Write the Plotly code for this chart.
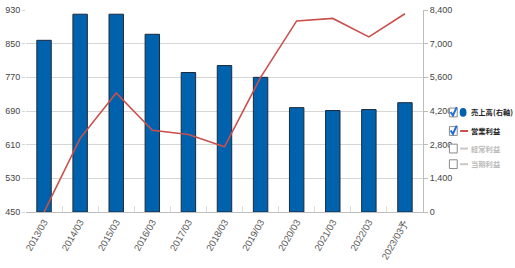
import plotly.graph_objects as go

categories = ["2013/03", "2014/03", "2015/03", "2016/03", "2017/03", "2018/03",
              "2019/03", "2020/03", "2021/03", "2022/03", "2023/03予"]
sales = [7140, 8225, 8225, 7390, 5800, 6090, 5600, 4340, 4220, 4260, 4545]
op_profit = [450, 625, 733, 644, 634, 605, 770, 904, 910, 866, 921]

left_ticks = [450, 530, 610, 690, 770, 850, 930]
right_ticks = [0, 1400, 2800, 4200, 5600, 7000, 8400]

legend_labels = ["売上高(右軸)", "営業利益", "経常利益", "当期利益"]
legend_checked = [True, True, False, False]

W, H = 515, 268
L, R, T, B = 17, 92, 5, 56
PW, PH = W - L - R, H - T - B


def px(x):
    return (x - L) / PW


def py(y):
    return (H - B - y) / PH


fig = go.Figure()
fig.add_trace(go.Bar(
    x=categories, y=sales, yaxis="y", width=0.4,
    marker=dict(color="#0062AD", line=dict(color="#1B2A3C", width=1)),
    showlegend=False, name="売上高(右軸)",
))
fig.add_trace(go.Scatter(
    x=categories, y=op_profit, yaxis="y2", mode="lines",
    line=dict(color="#C9504D", width=1.6),
    showlegend=False, name="営業利益", cliponaxis=True,
))

tickfont = dict(family="Liberation Sans, Arial, sans-serif", size=9, color="#444444")

fig.update_layout(
    width=W, height=H,
    margin=dict(l=L, r=R, t=T, b=B),
    paper_bgcolor="white", plot_bgcolor="white",
    showlegend=False,
    bargap=0.6,
    xaxis=dict(
        type="category", tickangle=-60, tickfont=dict(family="Liberation Sans, Arial, sans-serif", size=9.5, color="#555555"),
        showline=True, linecolor="#BDBDBD", linewidth=1,
        ticks="inside", tickson="boundaries", ticklen=6, tickcolor="#DDDDDD",
        showgrid=False, range=[-0.5, len(categories) - 0.5],
    ),
    yaxis=dict(
        side="right", range=[0, 8400], tickvals=right_ticks,
        ticktext=[f"{v:,}" for v in right_ticks],
        tickfont=tickfont, showgrid=True, gridcolor="#D6D6D6", gridwidth=1,
        showline=True, linecolor="#BDBDBD", linewidth=1,
        ticks="outside", ticklen=4, tickcolor="#BDBDBD", zeroline=False,
    ),
    yaxis2=dict(
        side="left", overlaying="y", range=[450, 930], tickvals=left_ticks,
        tickfont=tickfont, showgrid=False, showline=False, zeroline=False,
        ticks="outside", ticklen=3, tickcolor="#D6D6D6",
    ),
)

# custom legend with check boxes
rows_y = [110, 129, 147, 163]
shapes = []
annotations = []
for i, (lab, chk) in enumerate(zip(legend_labels, legend_checked)):
    cy = rows_y[i]
    shapes.append(dict(type="rect", xref="paper", yref="paper",
                       x0=px(450), x1=px(458), y0=py(cy + 4.5), y1=py(cy - 4.5),
                       line=dict(color="#8A8A8A", width=1), fillcolor="white"))
    if chk:
        path = (f"M {px(451.2)},{py(cy - 0.5)} L {px(453.6)},{py(cy + 3)} "
                f"L {px(457.5)},{py(cy - 5.5)}")
        shapes.append(dict(type="path", xref="paper", yref="paper", path=path,
                           line=dict(color="#1E6FD9", width=2)))
    if i == 0:
        shapes.append(dict(type="circle", xref="paper", yref="paper",
                           x0=px(460.5), x1=px(467.5), y0=py(cy + 4.5), y1=py(cy - 4.5),
                           line=dict(color="#0062AD", width=0), fillcolor="#0062AD"))
    else:
        col = "#C9504D" if i == 1 else "#C8C8C8"
        shapes.append(dict(type="line", xref="paper", yref="paper",
                           x0=px(461), x1=px(469), y0=py(cy), y1=py(cy),
                           line=dict(color=col, width=2)))
    annotations.append(dict(
        xref="paper", yref="paper", x=px(470), y=py(cy), xanchor="left", yanchor="middle",
        text=f"<b>{lab}</b>", showarrow=False,
        font=dict(family="Noto Sans CJK JP", size=7.3, color="#222222" if chk else "#BBBBBB"),
    ))

fig.update_layout(shapes=shapes, annotations=annotations)
fig.write_html("out.html")
